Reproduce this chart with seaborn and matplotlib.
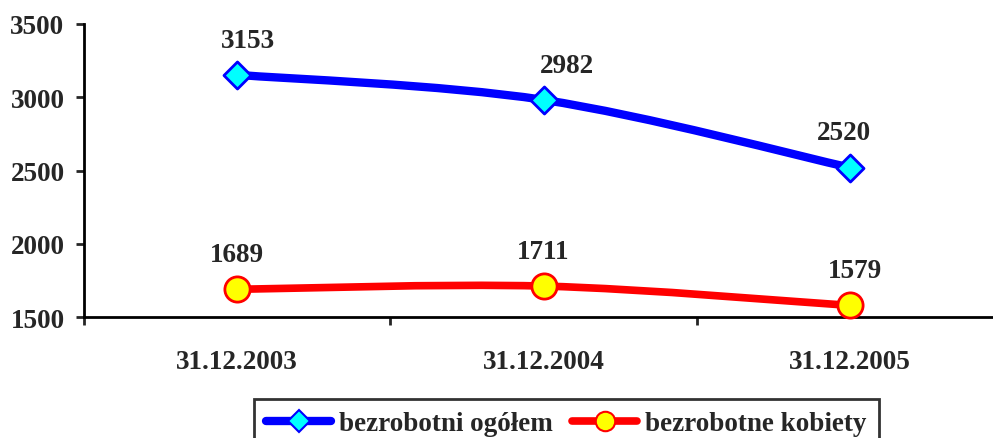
import numpy as np
import seaborn as sns
import matplotlib.pyplot as plt
from matplotlib.path import Path
from matplotlib.patches import PathPatch
from matplotlib.lines import Line2D

# data
dates = ["31.12.2003", "31.12.2004", "31.12.2005"]
ogolem = [3153, 2982, 2520]
kobiety = [1689, 1711, 1579]
series_names = ["bezrobotni ogółem", "bezrobotne kobiety"]

sns.set_style("white")
plt.rcParams['font.family'] = ['Liberation Serif', 'DejaVu Serif']
plt.rcParams['font.weight'] = 'bold'

fig = plt.figure(figsize=(9.93, 4.39), dpi=100)
ax = fig.add_axes([84 / 993, 1 - 318 / 439, 919 / 993, 293 / 439])


def smooth_path(xs, ys):
    # bezier curve through the points, like excel "smoothed line"
    pts = np.column_stack([xs, ys]).astype(float)
    n = len(pts)
    verts = [pts[0]]
    codes = [Path.MOVETO]
    for i in range(n - 1):
        p_prev = pts[i - 1] if i > 0 else pts[i]
        p_next = pts[i + 2] if i + 2 < n else pts[i + 1]
        c1 = pts[i] + (pts[i + 1] - p_prev) / 6
        c2 = pts[i + 1] - (p_next - pts[i]) / 6
        verts += [c1, c2, pts[i + 1]]
        codes += [Path.CURVE4] * 3
    return Path(verts, codes)


x = np.arange(len(dates))
styles = [
    dict(color="#0000FF", face="#00FFFF", marker="D", s=190, lw=6),
    dict(color="#FF0000", face="#FFFF00", marker="o", s=330, lw=5.5),
]
label_dx = [[8, 17, -4], [0, 0, 4]]
fs = 19.5

for vals, st, dxs in zip([ogolem, kobiety], styles, label_dx):
    ax.add_patch(PathPatch(smooth_path(x, vals), facecolor="none",
                           edgecolor=st["color"], lw=st["lw"],
                           capstyle="round", zorder=2, clip_on=False))
    sns.scatterplot(x=x, y=vals, marker=st["marker"], s=st["s"],
                    color=st["face"], edgecolor=st["color"], linewidth=2,
                    zorder=3, clip_on=False, ax=ax, legend=False)
    for xi, v, dx in zip(x, vals, dxs):
        ax.annotate(str(v), (xi, v), xytext=(dx, 25), textcoords="offset points",
                    ha="center", va="center", fontsize=fs, fontweight="bold")

ax.set_xlim(-0.5, 2.5)
ax.set_ylim(1500, 3500)
ax.set_yticks([1500, 2000, 2500, 3000, 3500])
ax.set_xticks(x)
ax.set_xticklabels(dates)
ax.set_xticks([-0.5, 0.5, 1.5, 2.5], minor=True)
ax.tick_params(bottom=True, left=True, which="both")
ax.tick_params(axis="x", which="major", length=0, pad=23, labelsize=fs)
ax.tick_params(axis="x", which="minor", length=6, width=2, direction="out")
ax.tick_params(axis="y", length=6, width=2, direction="out", pad=8, labelsize=fs)
for lab in ax.get_xticklabels() + ax.get_yticklabels():
    lab.set_fontweight("bold")

for side in ["top", "right"]:
    ax.spines[side].set_visible(False)
for side in ["left", "bottom"]:
    ax.spines[side].set_linewidth(2)
    ax.spines[side].set_color("black")

handles = [
    Line2D([], [], color=st["color"], lw=st["lw"], marker=st["marker"],
           markersize=11 if st["marker"] == "D" else 14,
           markerfacecolor=st["face"], markeredgecolor=st["color"], markeredgewidth=1.5,
           solid_capstyle="round")
    for st in styles
]
leg = fig.legend(handles, series_names, loc="upper left",
                 bbox_to_anchor=(254 / 993, 1 - 400 / 439), ncol=2,
                 frameon=True, fancybox=False, handlelength=2.4,
                 handletextpad=0.3, columnspacing=0.7, borderpad=0.45,
                 borderaxespad=0,
                 prop=dict(size=fs, weight="bold"))
leg.get_frame().set_edgecolor("black")
leg.get_frame().set_linewidth(2)

fig.savefig("out.png", dpi=100)
